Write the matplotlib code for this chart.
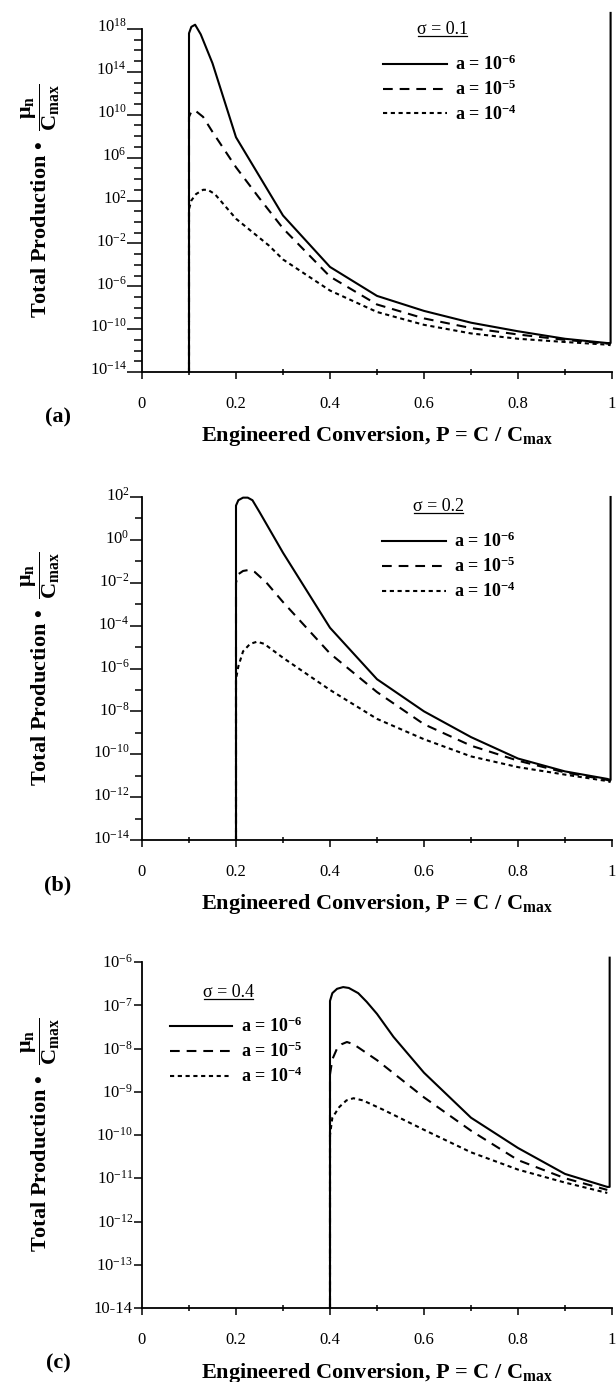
import numpy as np
import matplotlib
matplotlib.use("Agg")
import matplotlib.pyplot as plt
import matplotlib.transforms as mtransforms
from matplotlib.lines import Line2D
from matplotlib.ticker import FixedLocator, FixedFormatter, NullFormatter

plt.rcParams["font.family"] = ["Liberation Serif", "DejaVu Serif"]
plt.rcParams["mathtext.fontset"] = "custom"
plt.rcParams["mathtext.rm"] = "Liberation Serif"
plt.rcParams["mathtext.it"] = "Liberation Serif:italic"
plt.rcParams["mathtext.bf"] = "Liberation Serif:bold"
plt.rcParams["mathtext.default"] = "regular"
plt.rcParams["lines.scale_dashes"] = False

# ---- data (log10 of mu_n / C_max) ----
# panel (a), sigma = 0.1
a_solid_x = [0.1, 0.1, 0.105, 0.113, 0.125, 0.15, 0.2, 0.3, 0.4, 0.5, 0.6, 0.7, 0.8, 0.9, 0.99, 0.997, 0.997]
a_solid_e = [-14, 17.6, 18.2, 18.4, 17.5, 14.8, 7.9, 0.6, -4.2, -6.9, -8.3, -9.4, -10.2, -10.9, -11.3, -11.3, 19.5]
a_dash_x = [0.1, 0.1, 0.105, 0.113, 0.13, 0.15, 0.2, 0.25, 0.3, 0.4, 0.5, 0.6, 0.7, 0.8, 0.9, 0.99, 0.997]
a_dash_e = [-14, 9.8, 10.3, 10.4, 9.8, 8.4, 5.1, 2.2, -0.6, -5.1, -7.7, -9.0, -9.9, -10.5, -11.0, -11.35, -11.4]
a_dot_x = [0.1, 0.1, 0.105, 0.115, 0.13, 0.14, 0.155, 0.2, 0.27, 0.3, 0.4, 0.5, 0.6, 0.7, 0.8, 0.9, 0.99, 0.997]
a_dot_e = [-14, 1.2, 2.0, 2.6, 3.0, 3.0, 2.6, 0.3, -2.2, -3.5, -6.4, -8.4, -9.6, -10.4, -10.9, -11.2, -11.45, -11.5]

# panel (b), sigma = 0.2
b_solid_x = [0.2, 0.2, 0.205, 0.215, 0.225, 0.235, 0.25, 0.3, 0.4, 0.5, 0.6, 0.7, 0.8, 0.9, 0.99, 0.997, 0.997]
b_solid_e = [-14, 1.6, 1.85, 1.97, 1.97, 1.85, 1.3, -0.6, -4.1, -6.5, -8.0, -9.2, -10.2, -10.8, -11.15, -11.2, 2.0]
b_dash_x = [0.2, 0.2, 0.205, 0.215, 0.228, 0.24, 0.265, 0.3, 0.4, 0.5, 0.6, 0.7, 0.8, 0.9, 0.99, 0.997]
b_dash_e = [-14, -2.0, -1.6, -1.45, -1.4, -1.5, -2.0, -2.9, -5.3, -7.1, -8.6, -9.6, -10.3, -10.85, -11.2, -11.25]
b_dot_x = [0.2, 0.2, 0.205, 0.215, 0.23, 0.245, 0.26, 0.3, 0.4, 0.5, 0.6, 0.7, 0.8, 0.9, 0.99, 0.997]
b_dot_e = [-14, -6.5, -5.9, -5.2, -4.85, -4.75, -4.85, -5.5, -7.0, -8.35, -9.3, -10.1, -10.6, -10.95, -11.25, -11.3]

# panel (c), sigma = 0.4
c_solid_x = [0.4, 0.4, 0.405, 0.415, 0.428, 0.44, 0.46, 0.478, 0.5, 0.535, 0.6, 0.7, 0.8, 0.9, 0.99, 0.995, 0.995]
c_solid_e = [-14, -6.9, -6.72, -6.62, -6.58, -6.6, -6.72, -6.92, -7.2, -7.73, -8.56, -9.6, -10.3, -10.9, -11.2, -11.2, -5.9]
c_dash_x = [0.4, 0.4, 0.405, 0.415, 0.425, 0.436, 0.45, 0.5, 0.6, 0.7, 0.8, 0.9, 0.99]
c_dash_e = [-14, -8.6, -8.25, -8.0, -7.9, -7.85, -7.9, -8.27, -9.13, -9.9, -10.58, -11.0, -11.27]
c_dot_x = [0.4, 0.4, 0.405, 0.42, 0.435, 0.45, 0.47, 0.514, 0.6, 0.7, 0.8, 0.9, 0.99]
c_dot_e = [-14, -10.0, -9.6, -9.35, -9.2, -9.15, -9.2, -9.42, -9.88, -10.4, -10.8, -11.1, -11.34]

legend_labels = [r"a = $\mathbf{10^{-6}}$", r"a = $\mathbf{10^{-5}}$", r"a = $\mathbf{10^{-4}}$"]
x_ticks = [0, 0.2, 0.4, 0.6, 0.8, 1.0]
x_ticklabels = ["0", "0.2", "0.4", "0.6", "0.8", "1"]
x_minor = [0.1, 0.3, 0.5, 0.7, 0.9]

a_major = [-14, -10, -6, -2, 2, 6, 10, 14, 18]
a_minor = [e for e in range(-14, 19) if e not in a_major]
b_major = [-14, -12, -10, -8, -6, -4, -2, 0, 2]
b_minor = [e for e in range(-14, 3) if e not in b_major]
c_major = [-14, -13, -12, -11, -10, -9, -8, -7, -6]
c_major_labels = ["10-14"] + [r"$10^{%d}$" % e for e in c_major[1:]]

W, H = 616, 1382
fig = plt.figure(figsize=(W / 100, H / 100), dpi=100)

STYLES = [dict(ls="-"), dict(ls=(0, (7, 5))), dict(ls=(0, (3, 2.6)))]


def px_axes(left, top, right, bottom):
    return fig.add_axes([left / W, 1 - bottom / H, (right - left) / W, (bottom - top) / H])


def draw_panel(ax, curves, ymax, major, minor, major_labels, maj_len, min_len, lab_shift):
    for (x, e), st in zip(curves, STYLES):
        ax.plot(x, 10.0 ** np.array(e), color="black", lw=1.5, clip_on=False,
                solid_joinstyle="round", dash_capstyle="butt", **st)
    ax.set_yscale("log")
    ax.set_xlim(0, 1)
    ax.set_ylim(1e-14, ymax)
    for s in ["top", "right"]:
        ax.spines[s].set_visible(False)
    for s in ["left", "bottom"]:
        ax.spines[s].set_linewidth(1.3)

    ax.yaxis.set_major_locator(FixedLocator([10.0 ** e for e in major]))
    ax.yaxis.set_major_formatter(FixedFormatter(major_labels))
    ax.yaxis.set_minor_locator(FixedLocator([10.0 ** e for e in minor]))
    ax.yaxis.set_minor_formatter(NullFormatter())
    ax.tick_params(axis="y", which="major", direction="out", length=maj_len, width=1.1,
                   pad=0.5, labelsize=12)
    ax.tick_params(axis="y", which="minor", direction="out", length=min_len, width=1.1)
    off = mtransforms.ScaledTranslation(0, lab_shift / 100, fig.dpi_scale_trans)
    for lab in ax.get_yticklabels():
        lab.set_transform(lab.get_transform() + off)

    ax.set_xticks(x_ticks)
    ax.set_xticklabels(x_ticklabels)
    ax.set_xticks(x_minor, minor=True)
    ax.tick_params(axis="x", which="major", direction="out", length=5, width=1.1,
                   pad=12, labelsize=12)
    ax.tick_params(axis="x", which="minor", direction="inout", length=4, width=1.1)

    ax.set_xlabel(r"Engineered Conversion, P = C / $\mathbf{C_{max}}$",
                  fontsize=16, fontweight="bold")
    ax.xaxis.set_label_coords(0.5, -0.152)
    ax.set_ylabel(r"Total Production •  $\mathbf{\dfrac{\mu_n}{C_{max}}}$",
                  fontsize=16, fontweight="bold")
    ax.yaxis.set_label_coords(-0.17, 0.5)


def add_legend(ax, sigma_text, sx, sy, lx, ly, hlen):
    handles = [Line2D([], [], color="black", lw=1.5, **st) for st in STYLES]
    ax.legend(handles, legend_labels, loc="upper left", bbox_to_anchor=(lx, ly),
              frameon=False, borderpad=0, borderaxespad=0, handlelength=hlen,
              handletextpad=0.45, labelspacing=0.3,
              prop={"weight": "bold", "size": 13})
    t = ax.text(sx, sy, sigma_text, transform=ax.transAxes, ha="center", va="center",
                fontsize=13)
    return t


ax_a = px_axes(142, 29, 612, 372)
draw_panel(ax_a, [(a_solid_x, a_solid_e), (a_dash_x, a_dash_e), (a_dot_x, a_dot_e)],
           1e18, a_major, a_minor, [r"$10^{%d}$" % e for e in a_major], 10.5, 6, 4)
ta = add_legend(ax_a, "σ = 0.1", 0.64, 1.0, 0.513, 0.925, 3.55)

ax_b = px_axes(142, 497, 612, 840)
draw_panel(ax_b, [(b_solid_x, b_solid_e), (b_dash_x, b_dash_e), (b_dot_x, b_dot_e)],
           1e2, b_major, b_minor, [r"$10^{%d}$" % e for e in b_major], 8.5, 5, 3)
tb = add_legend(ax_b, "σ = 0.2", 0.63, 0.971, 0.511, 0.898, 3.55)

ax_c = px_axes(142, 962, 612, 1308)
draw_panel(ax_c, [(c_solid_x, c_solid_e), (c_dash_x, c_dash_e), (c_dot_x, c_dot_e)],
           1e-6, c_major, [], c_major_labels, 6, 3, 1)
tc = add_legend(ax_c, "σ = 0.4", 0.183, 0.913, 0.06, 0.841, 3.45)

for lbl, ycen in [("(a)", 417), ("(b)", 885), ("(c)", 1363)]:
    fig.text(58 / W, 1 - ycen / H, lbl, ha="center", va="center",
             fontsize=16, fontweight="bold")

# underline the sigma titles
fig.canvas.draw()
for t in [ta, tb, tc]:
    bb = t.get_window_extent()
    fig.add_artist(Line2D([bb.x0 + 1, bb.x1 - 1], [bb.y0 + 2, bb.y0 + 2], color="black",
                          lw=0.9, transform=mtransforms.IdentityTransform()))

fig.savefig("out.png", dpi=100)
